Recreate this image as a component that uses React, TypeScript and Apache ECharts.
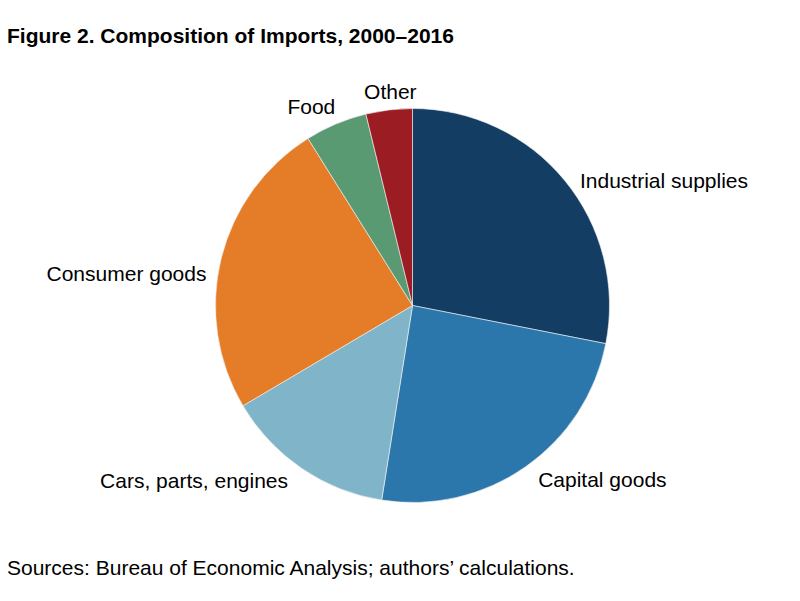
import { useEffect, useRef } from 'react'
import * as echarts from 'echarts'

// ===== 数据 =====
const categories = [
  'Industrial supplies',
  'Capital goods',
  'Cars, parts, engines',
  'Consumer goods',
  'Food',
  'Other',
]
const shares = [28.1, 24.4, 14.0, 24.6, 5.1, 3.8]
const colors = ['#133d63', '#2b76aa', '#80b4c9', '#e47c28', '#5a9a72', '#9b1c23']

// label nudges (px) from the default outside position
const labelDx = [0, 0, -1, 3, 10, 35]
const labelDy = [8, 3, 2, 17, -6, -6]

const FONT = '"Liberation Sans", Arial, sans-serif'

export default function App() {
  const ref = useRef<HTMLDivElement>(null)

  useEffect(() => {
    document.body.style.margin = '0'
    if (!ref.current) return
    const chart = echarts.init(ref.current, null, { renderer: 'svg' })
    chart.setOption({
      animation: false,
      backgroundColor: '#ffffff',
      title: {
        text: 'Figure 2. Composition of Imports, 2000–2016',
        left: 7,
        top: 25,
        padding: 0,
        textStyle: { fontFamily: FONT, fontSize: 21, fontWeight: 'bold', color: '#000' },
      },
      graphic: [
        {
          type: 'text',
          left: 7,
          top: 557,
          style: {
            text: 'Sources: Bureau of Economic Analysis; authors’ calculations.',
            fontFamily: FONT,
            fontSize: 21,
            fill: '#000',
          },
        },
      ],
      series: [
        {
          type: 'pie',
          center: [412.5, 305.5],
          radius: 197,
          startAngle: 90,
          clockwise: true,
          avoidLabelOverlap: false,
          itemStyle: { borderColor: '#f4f4f4', borderWidth: 0.6 },
          label: {
            show: true,
            position: 'outside',
            fontFamily: FONT,
            fontSize: 21,
            color: '#000',
            distanceToLabelLine: 6,
          },
          labelLine: { show: false, length: 12, length2: 0 },
          labelLayout: (p: { dataIndex: number }) => ({
            dx: labelDx[p.dataIndex],
            dy: labelDy[p.dataIndex],
          }),
          emphasis: { disabled: true },
          data: categories.map((name, i) => ({
            name,
            value: shares[i],
            itemStyle: { color: colors[i] },
          })),
        },
      ],
    })
    return () => chart.dispose()
  }, [])

  return <div ref={ref} style={{ width: 800, height: 601 }} />
}
